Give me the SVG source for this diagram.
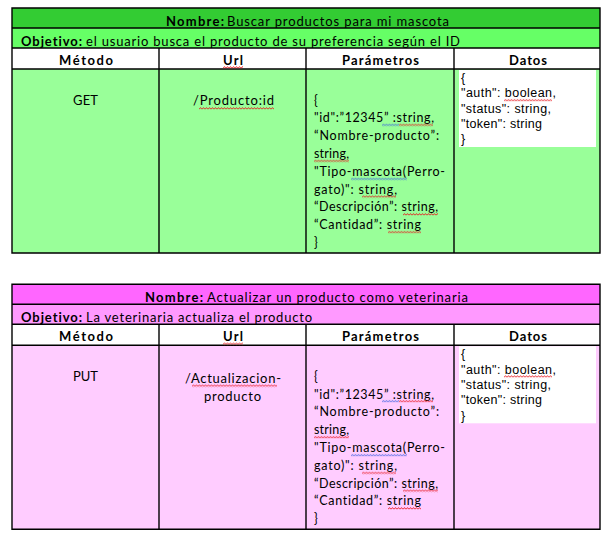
<svg xmlns="http://www.w3.org/2000/svg" width="613" height="541" viewBox="0 0 613 541">
<defs>
<pattern id="sqR" width="3" height="3" patternUnits="userSpaceOnUse"><path d="M0,2.4 L1.5,0.6 L3,2.4" fill="none" stroke="#e8141b" stroke-width="0.9"/></pattern>
<pattern id="sqB" width="3" height="3" patternUnits="userSpaceOnUse"><path d="M0,2.4 L1.5,0.6 L3,2.4" fill="none" stroke="#3a5fe0" stroke-width="0.9"/></pattern>
</defs>
<style>
text{font-family:Lato,"Liberation Sans",sans-serif;fill:#000;font-variant-ligatures:none;font-feature-settings:"liga" 0,"clig" 0;}
.t{font-size:13px;}
.b{font-size:13px;font-weight:bold;}
.p{font-size:12.5px;}
.d{font-family:"Liberation Sans",Arial,sans-serif;font-size:12.5px;}
.ln{stroke:#000;stroke-width:1.4;fill:none;}
.sr{fill:url(#sqR);}
.sb{fill:url(#sqB);}
</style>

<g id="table-get">
<rect x="12" y="8" width="588" height="20" fill="#33cc33"/>
<rect x="12" y="28" width="588" height="20" fill="#66ff66"/>
<rect x="12" y="48" width="588" height="21" fill="#ffffff"/>
<rect x="12" y="69" width="588" height="184" fill="#99ff99"/>
<rect x="459" y="70" width="137" height="77" fill="#ffffff"/>
<path class="ln" d="M12,8 H600 V253 H12 Z M12,28 H600 M12,48 H600 M12,69 H600 M159,48 V253 M306,48 V253 M454,48 V253"/>
<text class="b" x="166" y="26" textLength="58">Nombre:</text>
<text class="t" x="227" y="26" textLength="222">Buscar productos para mi mascota</text>
<text class="b" x="21" y="45.5" textLength="61">Objetivo:</text>
<text class="t" x="86" y="45.5" textLength="374">el usuario busca el producto de su preferencia según el ID</text>
<text class="b" x="59" y="64.5" textLength="54">Método</text>
<text class="b" x="223" y="64.5" textLength="20">Url</text>
<text class="b" x="342" y="64.5" textLength="77">Parámetros</text>
<text class="b" x="509" y="64.5" textLength="38">Datos</text>
<text class="t" x="73" y="105" textLength="25">GET</text>
<text class="t" x="193" y="105" textLength="81">/Producto:id</text>
<text class="p" x="314" y="104.5">{</text>
<text class="p" x="314" y="122.3" textLength="120">"id":”12345” :string,</text>
<text class="p" x="314" y="140.1" textLength="125">“Nombre-producto”:</text>
<text class="p" x="314" y="157.9" textLength="35">string,</text>
<text class="p" x="314" y="175.7" textLength="131">"Tipo-mascota(Perro-</text>
<text class="p" x="314" y="193.5" textLength="83">gato)": string,</text>
<text class="p" x="314" y="211.3" textLength="124">“Descripción”: string,</text>
<text class="p" x="314" y="229.1" textLength="107">“Cantidad”: string</text>
<text class="p" x="314" y="246.9">}</text>
<text class="d" x="461" y="82">{</text>
<text class="d" x="461" y="97.3" textLength="95">"auth": boolean,</text>
<text class="d" x="461" y="112.7" textLength="90">"status": string,</text>
<text class="d" x="461" y="128" textLength="81">"token": string</text>
<text class="d" x="461" y="143.3">}</text>
<rect class="sr" transform="translate(223,66)" width="20" height="3"/>
<rect class="sr" transform="translate(199,107)" width="75" height="3"/>
<rect class="sb" transform="translate(382,123.5)" width="17" height="3"/>
<rect class="sr" transform="translate(399,123.5)" width="34" height="3"/>
<rect class="sr" transform="translate(314,159.5)" width="35" height="3"/>
<rect class="sb" transform="translate(351,177.5)" width="56" height="3"/>
<rect class="sr" transform="translate(362,195.2)" width="34" height="3"/>
<rect class="sr" transform="translate(403,213)" width="35" height="3"/>
<rect class="sr" transform="translate(388,230.7)" width="33" height="3"/>
<rect class="sr" transform="translate(504,98.8)" width="48" height="3"/>
</g>

<g id="table-put" transform="translate(0,276.3)">
<rect x="12" y="8" width="588" height="20" fill="#ff66ff"/>
<rect x="12" y="28" width="588" height="20" fill="#ff99ff"/>
<rect x="12" y="48" width="588" height="21" fill="#ffffff"/>
<rect x="12" y="69" width="588" height="184" fill="#ffccff"/>
<rect x="459" y="70" width="137" height="77" fill="#ffffff"/>
<path class="ln" d="M12,8 H600 V253 H12 Z M12,28 H600 M12,48 H600 M12,69 H600 M159,48 V253 M306,48 V253 M454,48 V253"/>
<text class="b" x="145" y="26" textLength="58">Nombre:</text>
<text class="t" x="207" y="26" textLength="261">Actualizar un producto como veterinaria</text>
<text class="b" x="21" y="45.5" textLength="61">Objetivo:</text>
<text class="t" x="86" y="45.5" textLength="226">La veterinaria actualiza el producto</text>
<text class="b" x="59" y="64.5" textLength="54">Método</text>
<text class="b" x="223" y="64.5" textLength="20">Url</text>
<text class="b" x="342" y="64.5" textLength="77">Parámetros</text>
<text class="b" x="509" y="64.5" textLength="38">Datos</text>
<text class="t" x="73" y="105" textLength="25">PUT</text>
<text class="t" x="185" y="107" textLength="96">/Actualizacion-</text>
<text class="t" x="204" y="124.7" textLength="57">producto</text>
<text class="p" x="314" y="104.5">{</text>
<text class="p" x="314" y="122.3" textLength="120">"id":”12345” :string,</text>
<text class="p" x="314" y="140.1" textLength="125">“Nombre-producto”:</text>
<text class="p" x="314" y="157.9" textLength="35">string,</text>
<text class="p" x="314" y="175.7" textLength="131">"Tipo-mascota(Perro-</text>
<text class="p" x="314" y="193.5" textLength="83">gato)": string,</text>
<text class="p" x="314" y="211.3" textLength="124">“Descripción”: string,</text>
<text class="p" x="314" y="229.1" textLength="107">“Cantidad”: string</text>
<text class="p" x="314" y="246.9">}</text>
<text class="d" x="461" y="82">{</text>
<text class="d" x="461" y="97.3" textLength="95">"auth": boolean,</text>
<text class="d" x="461" y="112.7" textLength="90">"status": string,</text>
<text class="d" x="461" y="128" textLength="81">"token": string</text>
<text class="d" x="461" y="143.3">}</text>
<rect class="sr" transform="translate(223,66)" width="20" height="3"/>
<rect class="sr" transform="translate(192,108)" width="85" height="3"/>
<rect class="sb" transform="translate(382,123.5)" width="17" height="3"/>
<rect class="sr" transform="translate(399,123.5)" width="34" height="3"/>
<rect class="sr" transform="translate(314,159.5)" width="35" height="3"/>
<rect class="sb" transform="translate(351,177.5)" width="56" height="3"/>
<rect class="sr" transform="translate(362,195.2)" width="34" height="3"/>
<rect class="sr" transform="translate(403,213)" width="35" height="3"/>
<rect class="sr" transform="translate(388,230.7)" width="33" height="3"/>
<rect class="sr" transform="translate(504,98.8)" width="48" height="3"/>
</g>

<g id="connectors"></g>
</svg>
